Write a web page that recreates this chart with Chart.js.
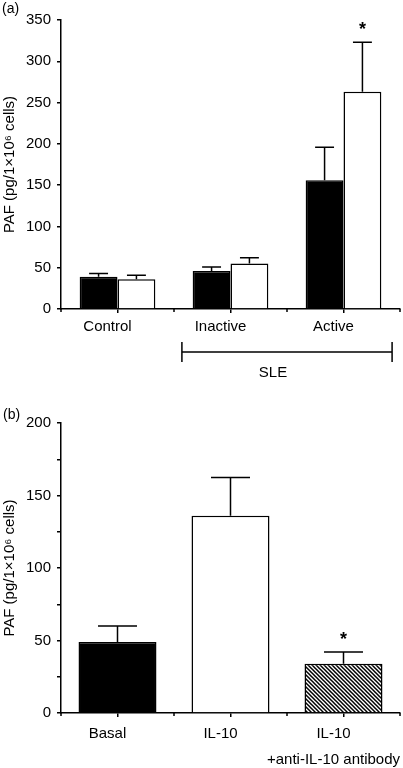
<!DOCTYPE html>
<html>
<head>
<meta charset="utf-8">
<script src="https://cdn.jsdelivr.net/npm/chart.js@4.4.1/dist/chart.umd.min.js"></script>
<style>
  body { margin: 0; background: #fff; width: 403px; height: 768px; overflow: hidden; position: relative; }
  canvas { position: absolute; left: 0; }
  #chartA { top: 0; }
  #chartB { top: 385px; }
</style>
</head>
<body>
<canvas id="chartA" width="403" height="385"></canvas>
<canvas id="chartB" width="403" height="383"></canvas>
<script>
// (a) PAF by disease group, basal (black) vs IL-10 (white)
const groupsA = ['Control', 'Inactive', 'Active'];
const basalA = [39, 46, 156];
const basalErrA = [4, 5, 40];
const il10A = [36, 55, 263];
const il10ErrA = [5, 7, 60];
const il10SigA = [false, false, true];
const sleSpan = { label: 'SLE', from: 1, to: 2 };

// (b) stimulation conditions
const groupsB = ['Basal', 'IL-10', ['IL-10', '+anti-IL-10 antibody']];
const valuesB = [49, 136, 34];
const errB = [11, 26.5, 8];
const sigB = [false, false, true];

const yTitle = 'PAF (pg/1×10⁶ cells)';
const FONT = '"Liberation Sans", Arial, sans-serif';

Chart.defaults.font.family = FONT;
Chart.defaults.font.size = 15;
Chart.defaults.color = '#000';

// error bars (upper half only) + significance star
const errorBars = {
  id: 'errorBars',
  afterDatasetsDraw(chart) {
    const ctx = chart.ctx;
    const y = chart.scales.y;
    chart.data.datasets.forEach((ds, di) => {
      const meta = chart.getDatasetMeta(di);
      meta.data.forEach((bar, i) => {
        const top = y.getPixelForValue(ds.data[i] + ds.errors[i]);
        const half = bar.width / 4;
        ctx.save();
        ctx.strokeStyle = '#000';
        ctx.lineWidth = 1.5;
        ctx.beginPath();
        ctx.moveTo(bar.x, bar.y);
        ctx.lineTo(bar.x, top);
        ctx.moveTo(bar.x - half, top);
        ctx.lineTo(bar.x + half, top);
        ctx.stroke();
        if (ds.sig && ds.sig[i]) {
          ctx.fillStyle = '#000';
          ctx.font = 'bold 18px ' + FONT;
          ctx.textAlign = 'center';
          ctx.textBaseline = 'alphabetic';
          ctx.fillText('*', bar.x, top - 7);
        }
        ctx.restore();
      });
    });
  }
};

// small ticks at category boundaries on x axis + panel letter
const extras = {
  id: 'extras',
  afterDraw(chart, args, opts) {
    const ctx = chart.ctx;
    const x = chart.scales.x;
    const n = chart.data.labels.length;
    ctx.save();
    ctx.strokeStyle = '#000';
    ctx.lineWidth = 1.5;
    ctx.beginPath();
    for (let i = 0; i <= n; i++) {
      const px = x.getPixelForValue(i - 0.5);
      ctx.moveTo(px, x.top);
      ctx.lineTo(px, x.top + 3);
    }
    ctx.stroke();
    ctx.fillStyle = '#000';
    ctx.font = '14px ' + FONT;
    ctx.textAlign = 'left';
    ctx.textBaseline = 'middle';
    ctx.fillText(opts.letter, opts.lx, opts.ly);

    if (opts.span) {
      const s = opts.span;
      const l = x.getPixelForValue(s.from - 0.43);
      const r = x.getPixelForValue(s.to + 0.43);
      const yy = chart.chartArea.bottom + 43;
      ctx.beginPath();
      ctx.moveTo(l, yy); ctx.lineTo(r, yy);
      ctx.moveTo(l, yy - 10); ctx.lineTo(l, yy + 10);
      ctx.moveTo(r, yy - 10); ctx.lineTo(r, yy + 10);
      ctx.stroke();
      ctx.font = '15px ' + FONT;
      ctx.textAlign = 'center';
      ctx.fillText(s.label, (l + r) / 2 - 14, yy + 21);
    }
    ctx.restore();
  }
};

function hatch(ctx) {
  const s = 4;
  const c = document.createElement('canvas');
  c.width = s; c.height = s;
  const g = c.getContext('2d');
  g.fillStyle = '#fff';
  g.fillRect(0, 0, s, s);
  g.strokeStyle = '#000';
  g.lineWidth = 1.5;
  g.beginPath();
  g.moveTo(-1, -1); g.lineTo(s + 1, s + 1);
  g.moveTo(s - 1, -1); g.lineTo(s + 1, 1);
  g.moveTo(-1, s - 1); g.lineTo(1, s + 1);
  g.stroke();
  return ctx.createPattern(c, 'repeat');
}

function makeScales(yMax, xHeight, lineHeight, pad) {
  return {
    x: {
      offset: true,
      grid: { offset: false, drawOnChartArea: false, drawTicks: true, tickLength: 4, color: '#000', lineWidth: 1.5 },
      border: { display: true, color: '#000', width: 1.5 },
      ticks: { autoSkip: false, maxRotation: 0, minRotation: 0, padding: pad, labelOffset: -10,
               font: { size: 15, lineHeight: lineHeight } },
      afterFit(scale) { scale.height = xHeight; scale.paddingLeft = 0; scale.paddingRight = 0; }
    },
    y: {
      min: 0, max: yMax,
      grid: { drawOnChartArea: false, drawTicks: true, tickLength: 4, color: '#000', lineWidth: 1.5 },
      border: { display: true, color: '#000', width: 1.5 },
      ticks: { stepSize: 25, padding: 6, font: { size: 15 },
               callback: v => (v % 50 === 0 ? v : '') },
      title: { display: true, text: yTitle, font: { size: 15 }, padding: { top: 1, bottom: 0 } },
      afterFit(scale) { scale.width = 61; }
    }
  };
}

new Chart(document.getElementById('chartA'), {
  type: 'bar',
  data: {
    labels: groupsA,
    datasets: [
      { data: basalA, errors: basalErrA, backgroundColor: '#000', borderColor: '#000', borderWidth: 1.5 },
      { data: il10A, errors: il10ErrA, sig: il10SigA, backgroundColor: '#fff', borderColor: '#000', borderWidth: 1.5 }
    ]
  },
  options: {
    responsive: false,
    animation: false,
    categoryPercentage: 0.67,
    barPercentage: 1.0,
    layout: { padding: { top: 20, right: 3, left: 0, bottom: 0 } },
    plugins: {
      legend: { display: false },
      tooltip: { enabled: false },
      extras: { letter: '(a)', lx: 2, ly: 9, span: sleSpan }
    },
    scales: makeScales(350, 76, 1.2, 5)
  },
  plugins: [errorBars, extras]
});

const ctxB = document.getElementById('chartB').getContext('2d');
new Chart(ctxB, {
  type: 'bar',
  data: {
    labels: groupsB,
    datasets: [
      { data: valuesB, errors: errB, sig: sigB,
        backgroundColor: ['#000', '#fff', hatch(ctxB)], borderColor: '#000', borderWidth: 1.5 }
    ]
  },
  options: {
    responsive: false,
    animation: false,
    categoryPercentage: 0.69,
    barPercentage: 1.0,
    layout: { padding: { top: 38, right: 3, left: 0, bottom: 0 } },
    plugins: {
      legend: { display: false },
      tooltip: { enabled: false },
      extras: { letter: '(b)', lx: 3, ly: 30 }
    },
    scales: makeScales(200, 55, 1.73, 3.5)
  },
  plugins: [errorBars, extras]
});
</script>
</body>
</html>
